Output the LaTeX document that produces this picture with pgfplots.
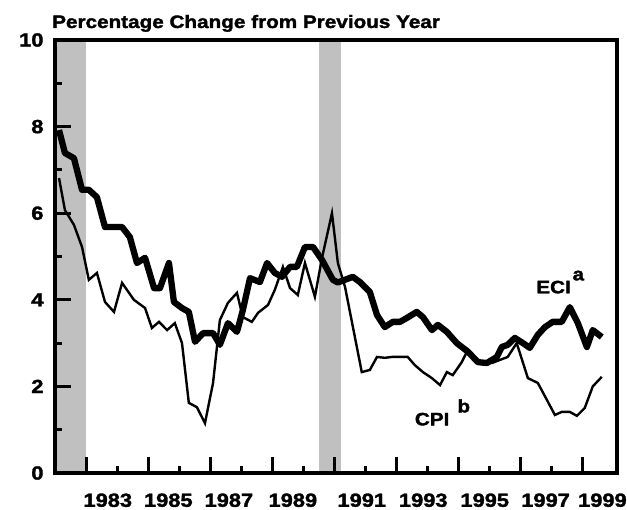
\documentclass[border=0pt]{standalone}
\usepackage{fontspec}
\setmainfont{Liberation Sans}[FakeStretch=1.15, BoldFeatures={FakeBold=1.8}]
\usepackage{pgfplots}
\pgfplotsset{compat=1.18}
\definecolor{recgray}{RGB}{192,192,192}
\begin{document}
\begin{tikzpicture}
\path[use as bounding box] (-55pt,-37pt) rectangle (572pt,473pt);
\begin{axis}[
  at={(0pt,0pt)}, anchor=south west,
  scale only axis, width=562pt, height=433pt,
  xmin=1982, xmax=2000.1, ymin=0, ymax=10,
  axis on top,
  axis line style={line width=3.3pt},
  every tick/.style={line width=3pt, black},
  tick align=inside,
  xtick pos=left, ytick pos=left,
  major tick length=16pt, minor tick length=7pt,
  xtick={1983,1985,...,1999}, xticklabels={},
  minor xtick={1984,1986,...,1998},
  extra x ticks={1983.7,1985.65,1987.6,1989.66,1991.88,1993.86,1995.84,1997.8,1999.63},
  extra x tick labels={1983,1985,1987,1989,1991,1993,1995,1997,1999},
  extra x tick style={major tick length=0pt, every tick/.style={draw=none}},
  ytick={0,2,...,10}, minor ytick={1,3,...,9},
  /pgf/number format/assume math mode=true,
  tick label style={font=\bfseries\fontsize{19}{19}\selectfont},
  yticklabel style={anchor=east, xshift=-8pt},
  xticklabel style={anchor=north, yshift=-17pt},
  clip=false,
]
\addplot[fill=recgray, draw=none] coordinates {(1982,0)(1983,0)(1983,10)(1982,10)} -- cycle;
\addplot[fill=recgray, draw=none] coordinates {(1990.5,0)(1991.21,0)(1991.21,10)(1990.5,10)} -- cycle;
\addplot[black, line width=2.4pt, line join=miter] coordinates {
(1982.13,6.81)(1982.32,6.07)(1982.61,5.73)(1982.87,5.22)(1983.09,4.46)(1983.35,4.62)(1983.61,3.95)(1983.90,3.72)(1984.16,4.39)(1984.54,4.00)(1984.90,3.81)(1985.12,3.35)(1985.35,3.49)(1985.61,3.30)(1985.86,3.46)(1986.09,3.00)(1986.31,1.62)(1986.57,1.52)(1986.83,1.15)(1987.09,2.08)(1987.31,3.53)(1987.57,3.93)(1987.86,4.16)(1988.05,3.60)(1988.34,3.49)(1988.54,3.70)(1988.86,3.88)(1989.08,4.23)(1989.34,4.76)(1989.57,4.27)(1989.82,4.11)(1990.05,4.85)(1990.37,4.07)(1990.60,4.97)(1990.92,6.00)(1991.11,4.85)(1991.34,4.30)(1991.88,2.33)(1992.14,2.38)(1992.37,2.68)(1992.62,2.66)(1992.85,2.68)(1993.36,2.68)(1993.59,2.49)(1993.85,2.33)(1994.14,2.19)(1994.40,2.03)(1994.62,2.33)(1994.81,2.26)(1995.10,2.56)(1995.30,2.85)(1995.68,2.54)(1996.07,2.54)(1996.58,2.68)(1996.87,3.00)(1997.23,2.19)(1997.55,2.08)(1997.84,1.69)(1998.10,1.34)(1998.32,1.41)(1998.58,1.41)(1998.81,1.32)(1999.06,1.50)(1999.32,2.00)(1999.61,2.22)
};
\addplot[black, line width=6.3pt, line join=round] coordinates {
(1982.13,7.92)(1982.32,7.39)(1982.61,7.27)(1982.87,6.54)(1983.09,6.54)(1983.35,6.37)(1983.61,5.68)(1984.16,5.68)(1984.41,5.45)(1984.64,4.85)(1984.90,4.97)(1985.19,4.27)(1985.38,4.27)(1985.67,4.85)(1985.83,3.95)(1986.09,3.81)(1986.31,3.72)(1986.51,3.03)(1986.77,3.23)(1987.09,3.23)(1987.31,2.96)(1987.57,3.46)(1987.86,3.26)(1988.05,3.76)(1988.28,4.50)(1988.60,4.41)(1988.83,4.85)(1989.08,4.62)(1989.31,4.53)(1989.57,4.76)(1989.79,4.76)(1990.05,5.22)(1990.31,5.22)(1990.60,4.92)(1990.95,4.46)(1991.11,4.40)(1991.59,4.53)(1991.82,4.41)(1992.14,4.18)(1992.37,3.65)(1992.62,3.37)(1992.88,3.49)(1993.11,3.49)(1993.33,3.58)(1993.65,3.72)(1993.85,3.60)(1994.14,3.30)(1994.33,3.42)(1994.62,3.26)(1994.94,3.00)(1995.30,2.80)(1995.62,2.56)(1995.91,2.54)(1996.23,2.68)(1996.39,2.91)(1996.58,2.96)(1996.81,3.12)(1997.07,3.00)(1997.29,2.89)(1997.55,3.19)(1997.78,3.37)(1998.03,3.49)(1998.32,3.49)(1998.58,3.83)(1998.84,3.46)(1999.13,2.91)(1999.32,3.30)(1999.61,3.14)
};
\node[font=\bfseries\fontsize{18}{18}\selectfont, anchor=base] at (axis cs:1998.27,4.15) {ECI\hspace{0.1em}\raisebox{0.72em}{a}};
\node[font=\bfseries\fontsize{18}{18}\selectfont, anchor=base] at (axis cs:1994.48,1.1) {CPI\hspace{0.45em}\raisebox{0.72em}{b}};
\end{axis}
\node[font=\bfseries\fontsize{18}{18}\selectfont, anchor=base west, inner sep=0pt] at (-3pt,445pt) {Percentage Change from Previous Year};
\end{tikzpicture}
\end{document}
